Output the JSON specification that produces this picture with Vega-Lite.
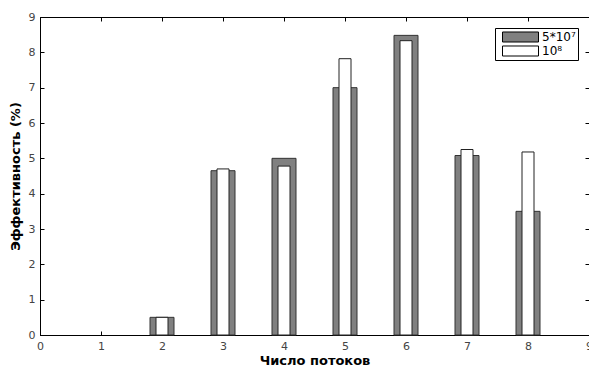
{
  "$schema": "https://vega.github.io/schema/vega-lite/v6.json",
  "autosize": "none",
  "padding": {"left": 40, "top": 17, "right": 0, "bottom": 32},
  "width": 549,
  "height": 318,
  "background": "white",
  "config": {
    "view": {"stroke": "black", "strokeWidth": 1},
    "font": "DejaVu Sans",
    "axis": {
      "grid": false,
      "domainColor": "black",
      "tickColor": "black",
      "tickSize": -4,
      "labelColor": "#444444",
      "labelFontSize": 11,
      "labelFont": "DejaVu Sans",
      "titleFont": "DejaVu Sans",
      "titleFontSize": 13,
      "titleFontWeight": "bold",
      "titleColor": "black"
    }
  },
  "data": {
    "values": [
      {"threads": 2, "series": "5*10⁷", "eff": 0.5},
      {"threads": 3, "series": "5*10⁷", "eff": 4.65},
      {"threads": 4, "series": "5*10⁷", "eff": 5.0},
      {"threads": 5, "series": "5*10⁷", "eff": 7.0},
      {"threads": 6, "series": "5*10⁷", "eff": 8.48},
      {"threads": 7, "series": "5*10⁷", "eff": 5.08},
      {"threads": 8, "series": "5*10⁷", "eff": 3.5},
      {"threads": 2, "series": "10⁸", "eff": 0.5},
      {"threads": 3, "series": "10⁸", "eff": 4.7},
      {"threads": 4, "series": "10⁸", "eff": 4.78},
      {"threads": 5, "series": "10⁸", "eff": 7.82},
      {"threads": 6, "series": "10⁸", "eff": 8.33},
      {"threads": 7, "series": "10⁸", "eff": 5.25},
      {"threads": 8, "series": "10⁸", "eff": 5.18}
    ]
  },
  "encoding": {
    "fill": {
      "field": "series", "type": "nominal",
      "scale": {"domain": ["5*10⁷", "10⁸"], "range": ["#808080", "#ffffff"]},
      "legend": {
        "title": null,
        "orient": "none",
        "legendX": 455,
        "legendY": 11,
        "symbolType": "M-1,-0.278H1V0.278H-1Z",
        "symbolSize": 1296,
        "clipHeight": 14,
        "symbolOffset": 5,
        "symbolStrokeColor": "black",
        "symbolStrokeWidth": 1,
        "strokeColor": "black",
        "fillColor": "white",
        "padding": 2,
        "rowPadding": 0,
        "labelOffset": 3,
        "labelFontSize": 12,
        "labelColor": "black",
        "labelFont": "DejaVu Sans"
      }
    }
  },
  "resolve": {"axis": {"x": "independent", "y": "independent"}},
  "layer": [
    {
      "transform": [{"filter": "datum.series === '5*10⁷'"}],
      "mark": {"type": "bar", "width": 24, "stroke": "#333333", "strokeWidth": 1},
      "encoding": {
        "x": {
          "field": "threads", "type": "quantitative",
          "scale": {"domain": [0, 9], "nice": false, "padding": 0},
          "axis": {"values": [0,1,2,3,4,5,6,7,8,9], "title": "Число потоков", "labelPadding": 9, "titlePadding": 3, "labelFlush": false}
        },
        "y": {
          "field": "eff", "type": "quantitative",
          "scale": {"domain": [0, 9], "nice": false, "padding": 0},
          "axis": {"values": [0,1,2,3,4,5,6,7,8,9], "title": "Эффективность (%)", "labelPadding": 9, "titlePadding": 6, "labelFlush": false}
        }
      }
    },
    {
      "transform": [{"filter": "datum.series === '10⁸'"}],
      "mark": {"type": "bar", "width": 12, "stroke": "#222222", "strokeWidth": 1},
      "encoding": {
        "x": {
          "field": "threads", "type": "quantitative",
          "axis": {"orient": "top", "values": [0,1,2,3,4,5,6,7,8,9], "labels": false, "title": null, "domain": false}
        },
        "y": {
          "field": "eff", "type": "quantitative",
          "axis": {"orient": "right", "values": [0,1,2,3,4,5,6,7,8,9], "labels": false, "title": null, "domain": false}
        }
      }
    }
  ]
}
